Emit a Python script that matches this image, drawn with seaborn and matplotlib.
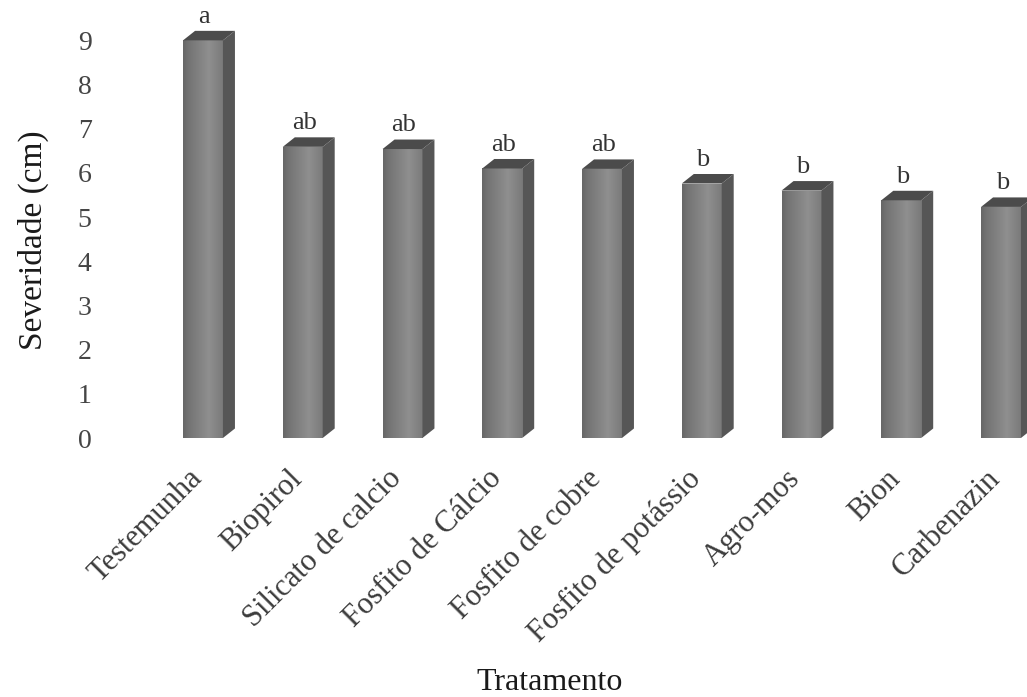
import numpy as np
import pandas as pd
import matplotlib
matplotlib.use("Agg")
import matplotlib.pyplot as plt
from matplotlib.patches import Polygon
from matplotlib.colors import LinearSegmentedColormap
import seaborn as sns

# Severity of the disease (cm) per treatment, with Tukey letters
tratamentos = ["Testemunha", "Biopirol", "Silicato de calcio", "Fosfito de Cálcio",
               "Fosfito de cobre", "Fosfito de potássio", "Agro-mos", "Bion", "Carbenazin"]
severidade = [9.0, 6.59, 6.54, 6.10, 6.09, 5.76, 5.60, 5.38, 5.23]
letras = ["a", "ab", "ab", "ab", "ab", "b", "b", "b", "b"]
y_ticks = list(range(0, 10))

df = pd.DataFrame({"Tratamento": tratamentos, "Severidade": severidade})

sns.set_theme(style="white")
plt.rcParams["font.family"] = ["Liberation Serif", "DejaVu Serif"]

W, H, DPI = 1027, 697, 100
fig = plt.figure(figsize=(W / DPI, H / DPI), dpi=DPI)
fig.patch.set_facecolor("white")

# axes box in pixels (from the top-left corner of the figure)
ax_l, ax_r, ax_t, ax_b = 100, 1027, 5, 438
ax = fig.add_axes([ax_l / W, (H - ax_b) / H, (ax_r - ax_l) / W, (ax_b - ax_t) / H])

sns.barplot(data=df, x="Tratamento", y="Severidade", width=0.4, color="#808080",
            saturation=1, errorbar=None, ax=ax, zorder=2)

xlim = (-1.0326, 8.2607)
ylim = (0, 9.8)

# pseudo-3D depth, in pixels, converted to data units
px_per_x = (ax_r - ax_l) / (xlim[1] - xlim[0])
px_per_y = (ax_b - ax_t) / (ylim[1] - ylim[0])
dx = 12 / px_per_x
dy = 9.5 / px_per_y

front_cmap = LinearSegmentedColormap.from_list(
    "front", [(0.0, "#666666"), (0.15, "#747474"), (0.65, "#8f8f8f"), (1.0, "#7a7a7a")])
grad = np.linspace(0, 1, 256)[None, :]

bars = list(ax.patches)
for p in bars:
    x0, w, h = p.get_x(), p.get_width(), p.get_height()
    p.set_facecolor("#808080")
    p.set_edgecolor("none")
    im = ax.imshow(grad, extent=[x0, x0 + w, 0, h], aspect="auto", cmap=front_cmap,
                   vmin=0, vmax=1, interpolation="bicubic", zorder=2.1)
    im.set_clip_path(p)
    side = Polygon([(x0 + w, 0), (x0 + w + dx, dy), (x0 + w + dx, h + dy), (x0 + w, h)],
                   closed=True, facecolor="#565656", edgecolor="none", zorder=2.2)
    top = Polygon([(x0, h), (x0 + w, h), (x0 + w + dx, h + dy), (x0 + dx, h + dy)],
                  closed=True, facecolor="#4b4b4b", edgecolor="none", zorder=2.2)
    ax.add_patch(side)
    ax.add_patch(top)

for i, (v, letra) in enumerate(zip(severidade, letras)):
    ax.annotate(letra, xy=(i, v), xytext=(1, 17), textcoords="offset points",
                ha="center", va="center", fontsize=19, color="#333333", zorder=3)

ax.set_xlim(*xlim)
ax.set_ylim(*ylim)
ax.set_yticks(y_ticks)
ax.set_yticklabels([str(t) for t in y_ticks])
for s in ax.spines.values():
    s.set_visible(False)
ax.grid(False)

ax.tick_params(axis="y", labelsize=20, length=0, pad=6, colors="#454545")
ax.tick_params(axis="x", labelsize=22, length=0, pad=30, colors="#3c3c3c")
for lab in ax.get_xticklabels():
    lab.set_rotation(45)
    lab.set_ha("right")
    lab.set_va("baseline")
    lab.set_rotation_mode("anchor")

ax.set_xlabel("Tratamento", fontsize=23, color="#1a1a1a")
ax.set_ylabel("Severidade (cm)", fontsize=24, color="#1a1a1a")
ax.xaxis.label.set_va("center")
ax.yaxis.label.set_va("center")
ax.xaxis.set_label_coords((550 - ax_l) / (ax_r - ax_l), (ax_b - 683) / (ax_b - ax_t))
ax.yaxis.set_label_coords((33 - ax_l) / (ax_r - ax_l), (ax_b - 240) / (ax_b - ax_t))

fig.savefig("out.png", dpi=DPI, facecolor="white")
